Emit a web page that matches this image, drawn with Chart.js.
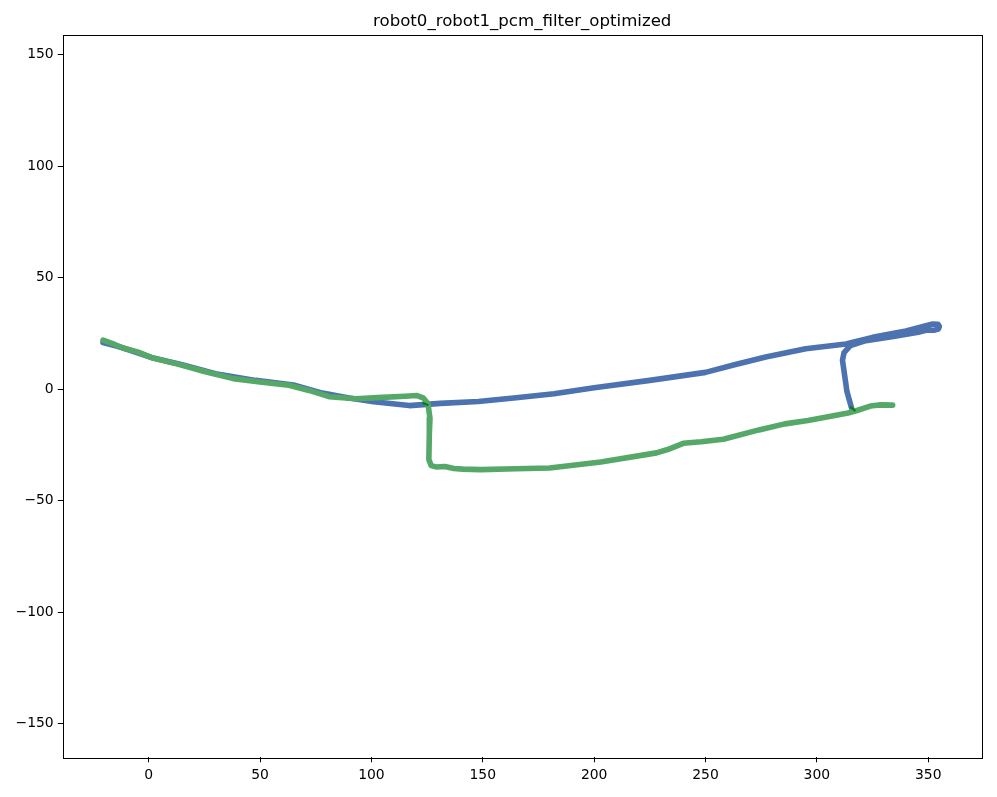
<!DOCTYPE html>
<html>
<head>
<meta charset="utf-8">
<script src="https://cdn.jsdelivr.net/npm/chart.js@4.4.1/dist/chart.umd.min.js"></script>
<style>
  html, body { margin: 0; padding: 0; background: #ffffff; }
  #wrap { width: 997px; height: 797px; }
</style>
</head>
<body>
<div id="wrap"><canvas id="c" width="997" height="797"></canvas></div>
<script>
const titleText = "robot0_robot1_pcm_filter_optimized";

const xTicks = [0, 50, 100, 150, 200, 250, 300, 350];
const yTicks = [-150, -100, -50, 0, 50, 100, 150];
const xRange = [-38.6, 374.0];
const yRange = [-165.0, 159.0];

// robot0 trajectory (blue)
const robot0X = [-20.5, -14, -8, 2, 15, 30, 48, 65, 78, 90, 101, 117, 131, 148, 165, 182, 200, 225, 250, 263, 277, 295, 313, 325, 340, 352, 354.3, 355.0, 354.5, 352.5, 350, 348, 345.5, 335, 322, 315, 312.2, 311.5, 312.5, 313.5, 315.6];
const robot0Y = [21.0, 19.3, 17.4, 14.0, 11.0, 7.0, 4.0, 1.9, -1.7, -3.9, -5.6, -7.3, -6.3, -5.5, -3.8, -2.0, 0.7, 4.0, 7.6, 11.0, 14.5, 18.2, 20.3, 23.3, 26.2, 29.3, 29.2, 28.2, 27.0, 26.5, 26.6, 26.2, 25.6, 23.8, 21.8, 19.6, 16.5, 13.0, 6.0, -1.0, -8.5];

// robot1 trajectory (green)
const robot1X = [-20.5, -15, -11.5, -5, 2, 12.7, 25, 38, 50, 63, 72, 81, 93, 105, 115, 120.5, 123.2, 125.4, 126.3, 126.0, 125.8, 126.8, 129, 133, 137, 141, 149, 165, 180, 203, 228, 233, 240, 248, 258, 274, 285.6, 296, 314, 318, 324, 328, 334];
const robot1Y = [22.1, 20.0, 18.5, 16.8, 14.0, 11.4, 8.0, 4.8, 3.3, 1.8, -0.5, -3.3, -4.2, -3.6, -3.1, -2.8, -3.8, -6.5, -13.0, -20.0, -31.5, -34.2, -34.8, -34.6, -35.5, -35.8, -36.0, -35.6, -35.3, -32.6, -28.5, -27.0, -24.2, -23.5, -22.4, -18.2, -15.5, -14.0, -10.6, -9.5, -7.5, -7.0, -7.1];

// inter-robot loop closures (short dark green segments)
const closureX = [123.0, 125.6, null, 315.0, 317.3];
const closureY = [-6.0, -7.2, null, -7.8, -9.7];

function pts(xs, ys) {
  return xs.map((x, i) => ({ x: x, y: ys[i] }));
}

const frame = {
  id: 'frame',
  afterDatasetsDraw(chart) {
    const a = chart.chartArea;
    const ctx = chart.ctx;
    ctx.save();
    ctx.strokeStyle = '#000000';
    ctx.lineWidth = 1;
    ctx.strokeRect(Math.round(a.left) + 0.5, Math.round(a.top) + 0.5,
                   Math.round(a.right - a.left), Math.round(a.bottom - a.top));
    ctx.restore();
  },
  afterDraw(chart) {
    const a = chart.chartArea;
    const ctx = chart.ctx;
    ctx.save();
    ctx.fillStyle = '#000000';
    ctx.font = '16.6px "DejaVu Sans"';
    ctx.textAlign = 'center';
    ctx.textBaseline = 'alphabetic';
    ctx.fillText(titleText, (a.left + a.right) / 2, 26);
    ctx.restore();
  }
};

const tickFont = { family: 'DejaVu Sans', size: 13.9 };

new Chart(document.getElementById('c'), {
  type: 'scatter',
  data: {
    datasets: [
      {
        label: 'robot0',
        data: pts(robot0X, robot0Y),
        showLine: true,
        borderColor: '#4c72b0',
        borderWidth: 5.6,
        pointRadius: 0,
        tension: 0,
        borderCapStyle: 'round',
        borderJoinStyle: 'round',
        order: 3
      },
      {
        label: 'robot1',
        data: pts(robot1X, robot1Y),
        showLine: true,
        borderColor: '#55a868',
        borderWidth: 5.6,
        pointRadius: 0,
        tension: 0,
        borderCapStyle: 'round',
        borderJoinStyle: 'round',
        order: 2
      },
      {
        label: 'closures',
        data: pts(closureX, closureY),
        showLine: true,
        spanGaps: false,
        borderColor: '#007f00',
        borderWidth: 2,
        pointRadius: 0,
        order: 1
      }
    ]
  },
  options: {
    responsive: false,
    animation: false,
    layout: { padding: { left: 0, right: 15.3, top: 34.7, bottom: 0 } },
    plugins: {
      legend: { display: false },
      tooltip: { enabled: false },
      title: { display: false }
    },
    scales: {
      x: {
        type: 'linear',
        min: xRange[0],
        max: xRange[1],
        afterBuildTicks: (s) => { s.ticks = xTicks.map(v => ({ value: v })); },
        afterFit: (s) => { s.height = 797 - 757.3; },
        grid: { drawOnChartArea: false, drawTicks: true, tickLength: 5, tickColor: '#000000' },
        border: { display: false },
        ticks: {
          color: '#000000',
          font: tickFont,
          padding: 5,
          maxRotation: 0,
          callback: (v) => String(v).replace('-', '\u2212')
        }
      },
      y: {
        type: 'linear',
        min: yRange[0],
        max: yRange[1],
        afterBuildTicks: (s) => { s.ticks = yTicks.map(v => ({ value: v })); },
        afterFit: (s) => { s.width = 62.7; },
        grid: { drawOnChartArea: false, drawTicks: true, tickLength: 5, tickColor: '#000000' },
        border: { display: false },
        ticks: {
          color: '#000000',
          font: tickFont,
          padding: 4,
          callback: (v) => String(v).replace('-', '\u2212')
        }
      }
    }
  },
  plugins: [frame]
});
</script>
</body>
</html>
